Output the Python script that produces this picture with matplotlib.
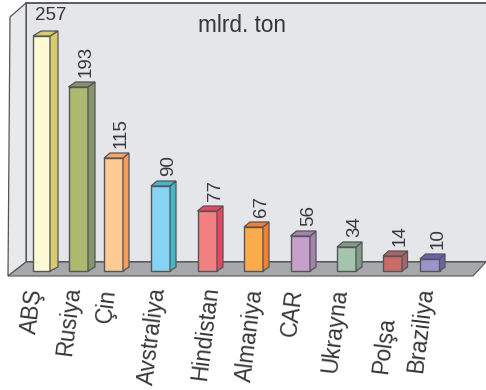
"""Coal reserves by country, hand-drawn style 3D bars."""
import matplotlib
matplotlib.use('Agg')
import matplotlib.pyplot as plt
from matplotlib.patches import Polygon

plt.rcParams['font.family'] = ['Liberation Sans', 'DejaVu Sans']

countries = ['ABŞ', 'Rusiya', 'Çin', 'Avstraliya', 'Hindistan', 'Almaniya',
             'CAR', 'Ukrayna', 'Polşa', 'Braziliya']
values = [257, 193, 115, 90, 77, 67, 56, 34, 14, 10]
# the bars in the source are not to scale, these are the drawn heights
drawn_heights = [235, 184, 113, 85, 60, 44, 35, 24, 15, 12]
front_colors = ['#fffad6', '#adb96f', '#fdca94', '#86d4f5', '#f38181', '#fbab4c',
                '#c79fcb', '#a5c4ae', '#cb6b67', '#9a94cc']
side_colors = ['#d8cb6a', '#84946c', '#f79c5c', '#45b7c6', '#e8465f', '#f47f2d',
               '#a583ab', '#7e9c86', '#a86468', '#6a63ac']
top_colors = ['#d8cb6a', '#84946c', '#f9a468', '#45b7c6', '#e8465f', '#f47f2d',
              '#a583ab', '#7e9c86', '#a86468', '#6a63ac']

lefts = [33, 68.5, 104, 151, 197.5, 244, 290.5, 337, 383, 420]
rights = [50, 88, 123, 170, 217, 263, 310, 356, 402, 439.5]
depths = [8, 7, 6, 6, 6, 6, 6, 6, 5.5, 5.5]

W, H = 486, 390
BASE = H - 271
EDGE = '#555558'
TEXT = '#37373a'

fig = plt.figure(figsize=(W / 100, H / 100), dpi=100)
ax = fig.add_axes([0, 0, 1, 1])
ax.set_xlim(0, W)
ax.set_ylim(0, H)
ax.axis('off')


def py(y):
    # picture rows count from the top
    return H - y


# walls and floor
ax.add_patch(Polygon([(26, py(3)), (490, py(3)), (490, py(262)), (26, py(262))],
                     fc='#e5e6e9', ec='#333336', lw=1.1))
ax.add_patch(Polygon([(10, py(17)), (26, py(3)), (26, py(262)), (8, py(276))],
                     fc='#e8e9eb', ec='#555558', lw=0.9))
ax.add_patch(Polygon([(8, py(276)), (26, py(262)), (486, py(262)), (473, py(276))],
                     fc='#a7a8ab', ec='#555558', lw=0.8))

for i, name in enumerate(countries):
    left, right, d = lefts[i], rights[i], depths[i]
    top = BASE + drawn_heights[i]
    ax.bar(left, drawn_heights[i], width=right - left, bottom=BASE, align='edge',
           color=front_colors[i], edgecolor=EDGE, linewidth=1.0, zorder=3)
    ax.add_patch(Polygon([(right, BASE), (right + d, BASE + 4), (right + d, top + 5),
                          (right, top)],
                         fc=side_colors[i], ec=EDGE, lw=0.9, zorder=3))
    ax.add_patch(Polygon([(left, top), (left + d, top + 5), (right + d, top + 5),
                          (right, top)],
                         fc=top_colors[i], ec=EDGE, lw=0.9, zorder=3))

    # value labels sit just above the bar, only the first one is horizontal
    if i == 0:
        ax.text(51, py(16), str(values[i]), ha='center', va='center',
                fontsize=13.5, color=TEXT)
    else:
        ax.text((left + right) / 2 + 8, top + 10, str(values[i]), ha='center', va='bottom',
                rotation=90, fontsize=13.5, color=TEXT)

label_x = [32, 69, 107, 153, 205, 250, 292, 335, 384, 421]
label_top = [287, 285, 287, 286, 285, 288, 287, 287, 316, 286]
for name, x, y in zip(countries, label_x, label_top):
    ax.text(x, py(y), name, ha='center', va='top', rotation=83,
            rotation_mode='default', fontsize=16.3, color=TEXT)

ax.text(242, py(25), 'mlrd. ton', ha='center', va='center', fontsize=16.3, color=TEXT)

fig.savefig('out.png', dpi=100)
